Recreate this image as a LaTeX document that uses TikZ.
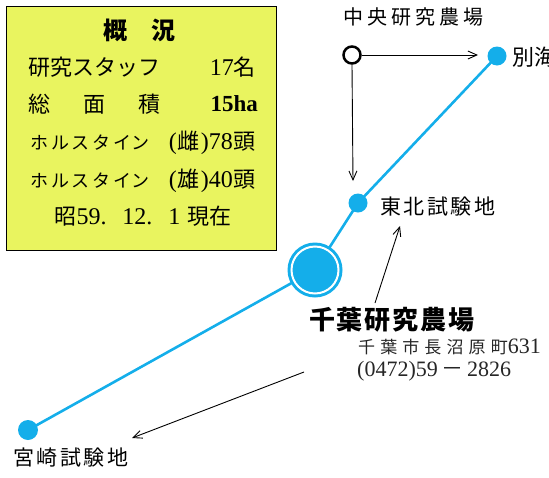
\documentclass[tikz,border=0pt]{standalone}
\usepackage{fontspec}
\setmainfont{Noto Sans CJK JP}
\newfontfamily\numf{Liberation Serif}
\usetikzlibrary{arrows.meta,backgrounds}
\definecolor{lineblue}{HTML}{14AEEA}
\definecolor{boxyellow}{HTML}{E9F45F}
\newcommand{\lsp}[1]{\addfontfeature{LetterSpace=#1}}
\newcommand{\fs}[1]{\fontsize{#1}{#1}\selectfont}
\begin{document}
\begin{tikzpicture}[x=1pt,y=-1pt,
  dot/.style={circle, fill=lineblue, inner sep=0pt, minimum size=19pt},
  lbl/.style={inner sep=0pt, anchor=west},
  rlbl/.style={inner sep=0pt, anchor=east},
  blueline/.style={draw=lineblue, line width=2.6pt},
  arr/.style={draw=black, line width=0.9pt, -{Straight Barb[length=9pt,width=8pt]}},
]
\useasboundingbox (0,0) rectangle (549,477);
\clip (0,0) rectangle (549,477);

% summary box
\node (box) [draw=black, line width=1.3pt, fill=boxyellow, inner sep=0pt,
  minimum width=270pt, minimum height=244pt, anchor=north west] at (5.5,5.5) {};
\node[lbl, font=\fs{24}\bfseries] (title) at (103,30) {概\hspace{24pt}況};
\node[lbl, font=\fs{22}] (r1l) at (28,67) {研究スタッフ};
\node[rlbl, font=\fs{22}] (r1r) at (256,67) {{\numf\fs{24}17}名};
\node[lbl, font=\fs{22}] (r2l) at (28,104) {総\hspace{33pt}面\hspace{33pt}積};
\node[rlbl, font=\fs{23}] (r2r) at (258,104) {{\numf\bfseries 15ha}};
\node[lbl, font=\fs{18}] (r3l) at (30,143) {{\lsp{16}ホルスタイ}ン};
\node[rlbl, font=\fs{22}] (r3r) at (256,143) {{\numf\fs{24}(}\hspace{1pt}雌\hspace{1pt}{\numf\fs{24})78}\hspace{1pt}頭};
\node[lbl, font=\fs{18}] (r4l) at (30,181) {{\lsp{16}ホルスタイ}ン};
\node[rlbl, font=\fs{22}] (r4r) at (256,181) {{\numf\fs{24}(}\hspace{1pt}雄\hspace{1pt}{\numf\fs{24})40}\hspace{1pt}頭};
\node[font=\fs{22}, inner sep=0pt] (r5) at (143,216) {昭{\numf\fs{24}59.}\hspace{16pt}{\numf\fs{24}12.}\hspace{16pt}{\numf\fs{24}1}\hspace{7pt}現在};

% network nodes
\node (chuo) [circle, draw=black, line width=2.5pt, fill=white, inner sep=0pt, minimum size=17pt] at (352,55) {};
\node (betsukai) [dot] at (497,56) {};
\node (tohoku) [dot] at (358,203) {};
\node (chibaout) [circle, fill=lineblue, inner sep=0pt, minimum size=55pt] at (315,270) {};
\node (chiba) [circle, fill=lineblue, draw=white, line width=2pt, inner sep=0pt, minimum size=47pt] at (315,270) {};
\node (miyazaki) [dot, minimum size=20pt] at (28,430) {};

\begin{scope}[on background layer]
  \draw[blueline] (betsukai.center) -- (tohoku.center) -- (chiba.center) -- (miyazaki.center);
\end{scope}

% labels
\node[lbl, font=\fs{20}\lsp{20}] (chuolbl) at (343,17) {中央研究農場};
\node[lbl, font=\fs{22}] (betsulbl) at (512,57) {別海};
\node[lbl, font=\fs{21}\lsp{12}] (tohokulbl) at (380,207) {東北試験地};
\node[lbl, font=\fs{26}\bfseries\lsp{7}] (chibalbl) at (309,320) {千葉研究農場};
\node[lbl, font=\fs{17}\lsp{30}, text=black!85] (addr) at (358,347) {千葉市長沼原町{\numf\fs{22}\lsp{0}631}};
\node[lbl, font=\fs{22}, text=black!85] (tel) at (357,371) {{\numf (0472)59}\,－\,{\numf 2826}};
\node[lbl, font=\fs{21}\lsp{12}] (miyalbl) at (13,458) {宮崎試験地};

% arrow ends
\coordinate (betsuarr) at (478,55);
\coordinate (tohokuarr) at (353,181);
\coordinate (chibaarrS) at (375,303);
\coordinate (chibaarrE) at (400,226);
\coordinate (addrarrS) at (304,372);
\coordinate (addrarrE) at (132,438);

\draw[arr] (chuo.east) -- (betsuarr);
\draw[arr] (chuo.south) -- (tohokuarr);
\draw[arr] (chibaarrS) -- (chibaarrE);
\draw[arr] (addrarrS) -- (addrarrE);
\end{tikzpicture}
\end{document}
